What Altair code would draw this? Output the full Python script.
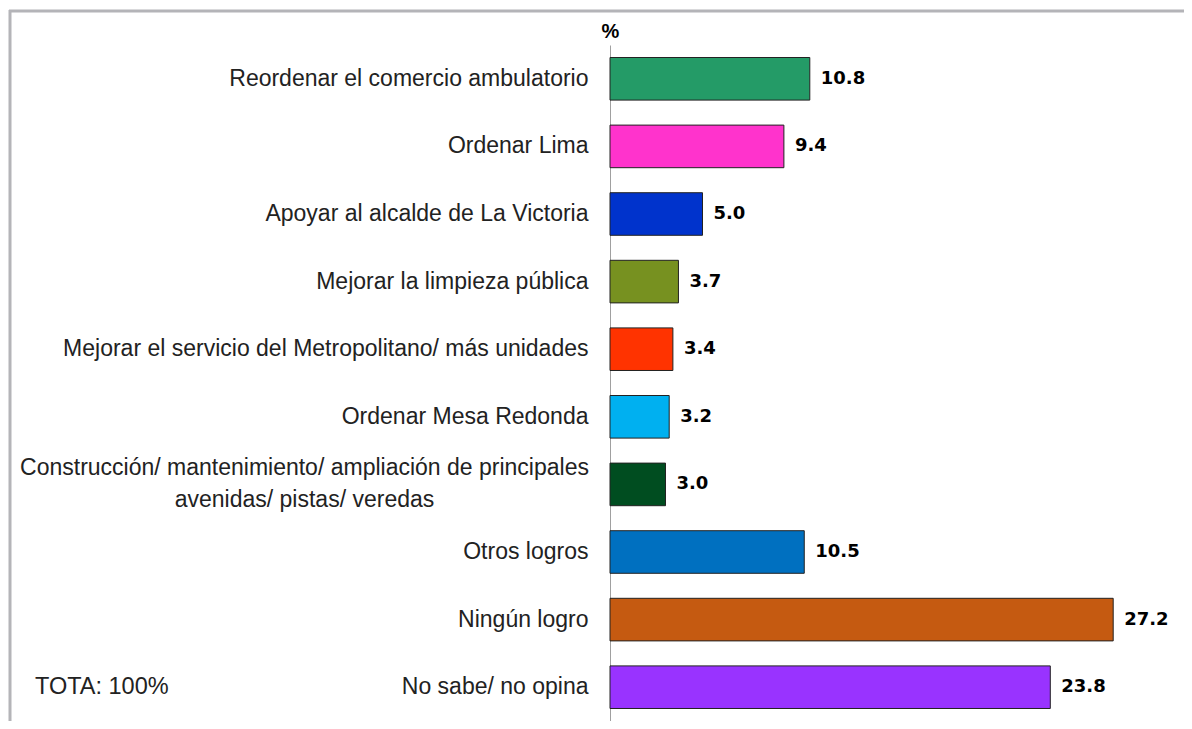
import altair as alt
import pandas as pd

categories = [
    "Reordenar el comercio ambulatorio",
    "Ordenar Lima",
    "Apoyar al alcalde de La Victoria",
    "Mejorar la limpieza pública",
    "Mejorar el servicio del Metropolitano/ más unidades",
    "Ordenar Mesa Redonda",
    "Construcción/ mantenimiento/ ampliación de principales|avenidas/ pistas/ veredas",
    "Otros logros",
    "Ningún logro",
    "No sabe/ no opina",
]
values = [10.8, 9.4, 5.0, 3.7, 3.4, 3.2, 3.0, 10.5, 27.2, 23.8]
colors = ["#249B67", "#FF33CC", "#0033CC", "#779120", "#FF3300",
          "#00B0F0", "#004D20", "#0070C0", "#C55A11", "#9933FF"]
note = "TOTA: 100%"

df = pd.DataFrame({"cat": categories, "val": values, "color": colors})
df["lbl"] = df["val"].map(lambda v: f"{v:.1f}")

multi = "indexof(datum.label, '|') >= 0"

y_enc = alt.Y(
    "cat:N",
    sort=categories,
    scale=alt.Scale(paddingInner=0.37, paddingOuter=0.185),
    axis=alt.Axis(
        title="%",
        titleAngle=0,
        titleAlign="center",
        titleBaseline="bottom",
        titleX=0,
        titleY=-4,
        titleFont="Liberation Sans",
        titleFontSize=20,
        titleFontWeight="bold",
        titleColor="#000000",
        labelExpr="split(datum.label, '|')",
        labelFont="Liberation Sans",
        labelFontSize=23,
        labelColor="#222222",
        labelPadding=alt.ExprRef(multi + " ? 306 : 22"),
        labelAlign=alt.ExprRef(multi + " ? 'center' : 'right'"),
        labelLineHeight=32,
        labelLimit=700,
        labelOffset=alt.ExprRef(multi + " ? -16 : 0"),
        ticks=False,
        domainColor="#A0A0A0",
        domainWidth=1,
        grid=False,
    ),
)
x_enc = alt.X("val:Q", scale=alt.Scale(domain=[0, 30]), axis=None)

base = alt.Chart(df)

bars = base.mark_bar(stroke="#222222", strokeWidth=1).encode(
    x=x_enc, y=y_enc, color=alt.Color("color:N", scale=None)
)

text = base.mark_text(
    align="left", baseline="middle", dx=11,
    font="DejaVu Sans", fontSize=18, fontWeight="bold", color="#000000"
).encode(x=x_enc, y=alt.Y("cat:N", sort=categories), text="lbl:N")

note_df = pd.DataFrame({"cat": [categories[-1]], "t": [note]})
note_layer = alt.Chart(note_df).mark_text(
    align="left", baseline="middle", font="Liberation Sans",
    fontSize=23.5, color="#222222"
).encode(x=alt.value(-575), y=alt.Y("cat:N", sort=categories), text="t:N")

border_df = pd.DataFrame({"a": [0]})
top_border = alt.Chart(border_df).mark_rule(color="#B4B4B8", strokeWidth=3).encode(
    x=alt.value(-601), x2=alt.value(574), y=alt.value(-34)
)
left_border = alt.Chart(border_df).mark_rule(color="#B4B4B8", strokeWidth=3).encode(
    x=alt.value(-600), y=alt.value(-35), y2=alt.value(676)
)

chart = alt.layer(top_border, left_border, bars, text, note_layer).properties(
    width=555,
    height=676,
    padding={"left": 602, "top": 37, "right": 19, "bottom": 0},
    autosize=alt.AutoSizeParams(type="none"),
).configure(
    background="#FFFFFF",
    view=alt.ViewConfig(stroke="transparent", strokeWidth=0),
)

chart.save("out.html", embed_options={"renderer": "svg", "actions": False})
